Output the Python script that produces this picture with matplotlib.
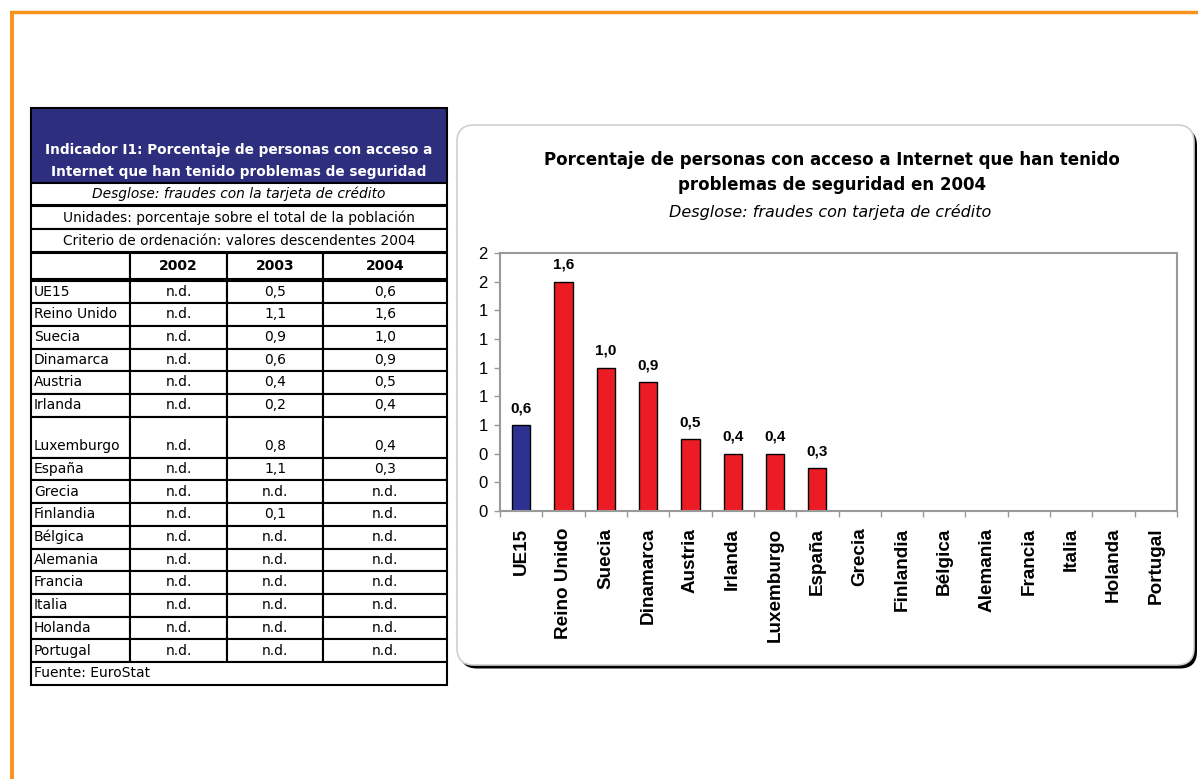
import matplotlib.pyplot as plt
import numpy as np
from matplotlib.patches import Rectangle, FancyBboxPatch

nd = np.nan

# data
countries = ["UE15", "Reino Unido", "Suecia", "Dinamarca", "Austria", "Irlanda",
             "Luxemburgo", "España", "Grecia", "Finlandia", "Bélgica", "Alemania",
             "Francia", "Italia", "Holanda", "Portugal"]
years = ["2002", "2003", "2004"]
pct_2002 = [nd, nd, nd, nd, nd, nd, nd, nd, nd, nd, nd, nd, nd, nd, nd, nd]
pct_2003 = [0.5, 1.1, 0.9, 0.6, 0.4, 0.2, 0.8, 1.1, nd, 0.1, nd, nd, nd, nd, nd, nd]
pct_2004 = [0.6, 1.6, 1.0, 0.9, 0.5, 0.4, 0.4, 0.3, nd, nd, nd, nd, nd, nd, nd, nd]

table_title = ["Indicador I1: Porcentaje de personas con acceso a",
               "Internet que han tenido problemas de seguridad"]
table_notes = ["Desglose: fraudes con la tarjeta de crédito",
               "Unidades: porcentaje sobre el total de la población",
               "Criterio de ordenación: valores descendentes 2004"]
source = "Fuente: EuroStat"
chart_title = ["Porcentaje de personas con acceso a Internet que han tenido",
               "problemas de seguridad en 2004"]
chart_sub = "Desglose: fraudes con tarjeta de crédito"


def fmt(v):
    if np.isnan(v):
        return "n.d."
    return f"{v:.1f}".replace(".", ",")


W, H = 1198, 779
fig = plt.figure(figsize=(W / 100, H / 100), dpi=100)
bg = fig.add_axes([0, 0, 1, 1])
bg.set_xlim(0, W)
bg.set_ylim(H, 0)
bg.axis("off")

# orange page frame
orange = "#F7941D"
bg.plot([10, W], [12, 12], color=orange, lw=2.5, solid_capstyle="butt")
bg.plot([11.5, 11.5], [11, H], color=orange, lw=2.8, solid_capstyle="butt")

# ---- table ----
tfont = "DejaVu Sans"
fs = 10
xl, xr = 31, 447
cols = [31, 130, 227, 323, 447]
navy = "#2E2E7E"
bg.add_patch(Rectangle((xl, 108), xr - xl, 75, fc=navy, ec="black", lw=1.5))
bg.text((xl + xr) / 2, 150, table_title[0], color="white", fontweight="bold",
        fontsize=9.8, ha="center", va="center", family=tfont)
bg.text((xl + xr) / 2, 172, table_title[1], color="white", fontweight="bold",
        fontsize=9.8, ha="center", va="center", family=tfont)

note_rows = [(183, 205), (206, 229), (229, 252)]
for i, (y0, y1) in enumerate(note_rows):
    bg.add_patch(Rectangle((xl, y0), xr - xl, y1 - y0, fc="white", ec="black", lw=1.5))
    bg.text((xl + xr) / 2, (y0 + y1) / 2, table_notes[i], fontsize=9.9,
            ha="center", va="center", family=tfont,
            style="italic" if i == 0 else "normal")

# year header row
yh0, yh1 = 253, 279
for c in range(4):
    bg.add_patch(Rectangle((cols[c], yh0), cols[c + 1] - cols[c], yh1 - yh0,
                           fc="white", ec="black", lw=1.5))
for c, yr in enumerate(years):
    bg.text((cols[c + 1] + cols[c + 2]) / 2, (yh0 + yh1) / 2, yr, fontsize=fs,
            fontweight="bold", ha="center", va="center", family=tfont)

# data rows
row_h = [22.7] * 16
row_h[6] = 41
y = 280.5
for i, name in enumerate(countries):
    h = row_h[i]
    for c in range(4):
        bg.add_patch(Rectangle((cols[c], y), cols[c + 1] - cols[c], h,
                               fc="white", ec="black", lw=1.5))
    ty = y + h - 11.5
    bg.text(cols[0] + 3, ty, name, fontsize=fs, ha="left", va="center", family=tfont)
    for c, series in enumerate([pct_2002, pct_2003, pct_2004]):
        bg.text((cols[c + 1] + cols[c + 2]) / 2, ty, fmt(series[i]), fontsize=fs,
                ha="center", va="center", family=tfont)
    y += h
bg.add_patch(Rectangle((xl, y), xr - xl, 22.5, fc="white", ec="black", lw=1.5))
bg.text(xl + 3, y + 11, source, fontsize=fs, ha="left", va="center", family=tfont)

# ---- chart box ----
bx, by, bw, bh = 457, 125, 737, 540
bg.add_patch(FancyBboxPatch((bx + 3, by + 3.5), bw, bh,
                            boxstyle="round,pad=0,rounding_size=17",
                            fc="black", ec="none"))
bg.add_patch(FancyBboxPatch((bx, by), bw, bh,
                            boxstyle="round,pad=0,rounding_size=17",
                            fc="white", ec="#cfcfcf", lw=1.2))
bg.text(832, 160, chart_title[0], fontsize=12, fontweight="bold", ha="center",
        va="center", family=tfont)
bg.text(832, 185, chart_title[1], fontsize=12, fontweight="bold", ha="center",
        va="center", family=tfont)
bg.text(830, 212, chart_sub, fontsize=11.5, style="italic", ha="center",
        va="center", family=tfont)

# ---- bar chart ----
ax = fig.add_axes([500 / W, 1 - 511 / H, 677 / W, 258 / H])
x = np.arange(len(countries))
vals = np.array(pct_2004, dtype=float)
colors = ["#2E3192"] + ["#EC1C24"] * (len(countries) - 1)
ax.bar(x, vals, width=0.43, color=colors, edgecolor="black", linewidth=1.0)
for xi, v in zip(x, vals):
    if not np.isnan(v):
        ax.annotate(fmt(v), (xi, v), xytext=(0, 7), textcoords="offset points",
                    ha="center", va="bottom", fontsize=11, fontweight="bold",
                    family=["Liberation Sans Narrow", "Liberation Sans"])

ax.set_xlim(-0.5, len(countries) - 0.5)
ax.set_ylim(0, 1.8)
ax.set_yticks(np.arange(0, 1.81, 0.2))
ax.yaxis.set_major_formatter(plt.FuncFormatter(lambda v, p: f"{v:.0f}"))
ax.set_xticks(x)
ax.set_xticklabels(countries, rotation=90, fontsize=13.6, fontweight="bold",
                   family="Liberation Sans")
ax.set_xticks(np.arange(-0.5, len(countries), 1), minor=True)
ax.tick_params(axis="x", which="major", length=0, pad=12)
ax.tick_params(axis="x", which="minor", length=4, color="#999999", width=1)
ax.tick_params(axis="y", length=4, color="#999999", width=1, pad=5)
for lab in ax.get_yticklabels():
    lab.set_fontsize(12)
    lab.set_family("Liberation Sans")
for s in ax.spines.values():
    s.set_color("#999999")
    s.set_linewidth(1.5)

fig.savefig("out.png", dpi=100)
